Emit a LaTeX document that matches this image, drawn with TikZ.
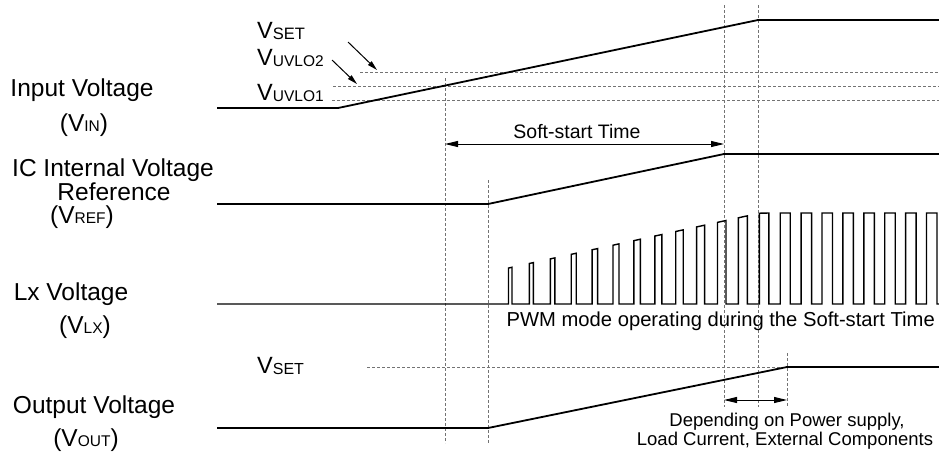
\documentclass[tikz,border=0pt]{standalone}
\usepackage{fontspec}
\setmainfont{Liberation Sans}
\usetikzlibrary{arrows.meta}
\newcommand{\vsub}[2]{V\raisebox{-1.2pt}{\fontsize{#2}{#2}\selectfont #1}}
\newcommand{\psub}[1]{(V{\fontsize{15.5}{15.5}\selectfont #1})}
\begin{document}
\begin{tikzpicture}[x=1pt,y=-1pt,
  wave/.style={line width=1.8pt, black, line join=miter},
  pulse/.style={line width=1.4pt, black, line join=miter},
  guide/.style={black!55, line width=0.7pt, dash pattern=on 3pt off 2pt},
  dim/.style={line width=1pt, {Triangle[length=13pt,width=6pt]}-{Triangle[length=13pt,width=6pt]}},
  ptr/.style={line width=1pt, -{Triangle[length=10pt,width=5pt]}},
  lbl/.style={font=\fontsize{24.5}{28}\selectfont, inner sep=0pt},
  vlbl/.style={font=\fontsize{23.5}{26}\selectfont, inner sep=0pt, anchor=base west},
  note/.style={font=\fontsize{19.5}{22}\selectfont, inner sep=0pt}]
\useasboundingbox (0,0) rectangle (939,451);

% guide lines
\draw[guide] (445,78) -- (445,443);
\draw[guide] (488,180) -- (488,443);
\draw[guide] (724,5) -- (724,407);
\draw[guide] (758,5) -- (758,407);
\draw[guide] (787,353) -- (787,407);
\draw[guide] (360,72) -- (939,72);
\draw[guide] (333,86) -- (939,86);
\draw[guide] (332,100) -- (939,100);
\draw[guide] (367,367) -- (787,367);

% waveforms
\draw[wave] (217,108) -- (338,108) -- (758,20) -- (939,20);
\draw[wave] (217,204) -- (488,204) -- (724,154) -- (939,154);
\draw[pulse] (217,304)
  \foreach \i [evaluate=\i as \xa using {508.5+20.9*\i},
               evaluate=\i as \xb using {508.5+20.9*\i+min(10.5,3.5+0.5016*\i)},
               evaluate=\i as \ya using {max(213,272.5-0.2185*(20.5+20.9*\i))},
               evaluate=\i as \yb using {max(213,272.5-0.2185*(20.5+20.9*\i+min(10.5,3.5+0.5016*\i)))}] in {0,...,20}
  { -- (\xa,304) -- (\xa,\ya) -- (\xb,\yb) -- (\xb,304) } -- (939,304);
\draw[wave] (217,428) -- (488,428) -- (787,367) -- (939,367);

% left labels
\node[lbl, anchor=base] (inlab) at (82,96) {Input Voltage};
\node[lbl, anchor=base] (inv) at (84,131) {\psub{IN}};
\node[lbl, anchor=base] (reflab1) at (113,176) {IC Internal Voltage};
\node[lbl, anchor=base] (reflab2) at (114,200) {Reference};
\node[lbl, anchor=base] (refv) at (82,223) {\psub{REF}};
\node[lbl, anchor=base] (lxlab) at (71,300) {Lx Voltage};
\node[lbl, anchor=base] (lxv) at (85,333) {\psub{LX}};
\node[lbl, anchor=base] (outlab) at (94,413) {Output Voltage};
\node[lbl, anchor=base] (outv) at (86,446) {\psub{OUT}};

% threshold labels
\node[vlbl] (vset) at (257,38) {\vsub{SET}{16.5}};
\node[vlbl] (vuv2) at (257,65) {\vsub{UVLO2}{15.5}};
\node[vlbl] (vuv1) at (257,100) {\vsub{UVLO1}{15.5}};
\node[vlbl] (vset2) at (257,373) {\vsub{SET}{16}};

% pointers
\coordinate (p1s) at (348,42); \coordinate (p1e) at (377,70);
\coordinate (p2s) at (332,60); \coordinate (p2e) at (357,84);
\draw[ptr] (p1s) -- (p1e);
\draw[ptr] (p2s) -- (p2e);

% soft-start
\coordinate (ssl) at (445,144); \coordinate (ssr) at (724,144);
\draw[dim] (ssl) -- (ssr);
\node[note, anchor=base] (sst) at (577,138) {Soft-start Time};

\node[note, font=\fontsize{20.2}{23}\selectfont, anchor=base east] (pwm) at (935,326) {PWM mode operating during the Soft-start Time};

% dependency
\coordinate (dl) at (724,400); \coordinate (dr) at (787,400);
\draw[dim] (dl) -- (dr);
\node[note, font=\fontsize{18.5}{21}\selectfont, anchor=base] (dep1) at (787,426) {Depending on Power supply,};
\node[note, font=\fontsize{18.5}{21}\selectfont, anchor=base] (dep2) at (785,445) {Load Current, External Components};
\end{tikzpicture}
\end{document}
